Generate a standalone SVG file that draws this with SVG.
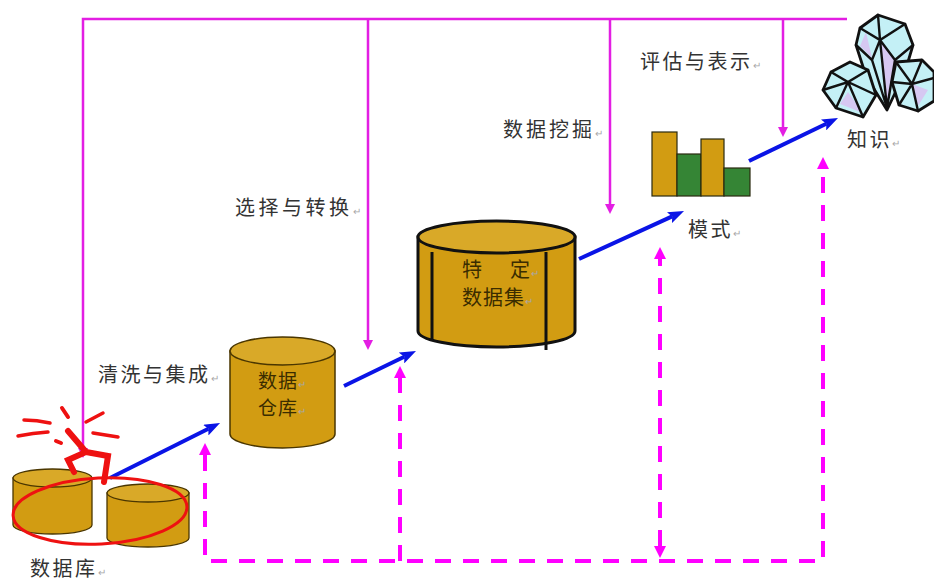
<svg xmlns="http://www.w3.org/2000/svg" width="934" height="581" viewBox="0 0 934 581">
  <style>
    .lbl { font-family: "Noto Sans CJK SC", "Noto Sans", sans-serif; font-size: 20px; fill: #333333; letter-spacing: 2.5px; }
    .inlbl { font-family: "Noto Sans CJK SC", "Noto Sans", sans-serif; font-size: 19px; fill: #3a2c00; letter-spacing: 1px; }
    .ret { font-size: 10px; fill: #a8a8a8; letter-spacing: 0; }
    .solid { fill: none; stroke: #e31ee3; stroke-width: 2.5; }
    .dash { fill: none; stroke: #ff00ff; stroke-width: 4; stroke-dasharray: 16 12; }
    .flow { fill: none; stroke: #0a14e6; stroke-width: 4; }
    .gold { fill: #d29c12; }
    .goldTop { fill: #d9a928; }
    .gem { fill: #c4f0f6; stroke: #111; stroke-width: 2.8; stroke-linejoin: round; }
    .facet { fill: none; stroke: #111; stroke-width: 2.4; stroke-linecap: round; }
    .lav { fill: #d6c8f2; }
  </style>
  <defs>
    <marker id="headBlue" viewBox="0 0 16 12" markerWidth="16" markerHeight="12" refX="3" refY="6" orient="auto" markerUnits="userSpaceOnUse">
      <path d="M0,0 L16,6 L0,12 L3,6 z" fill="#0a14e6"/>
    </marker>
    <marker id="headPink" viewBox="0 0 10 10" markerWidth="10" markerHeight="10" refX="0" refY="5" orient="auto" markerUnits="userSpaceOnUse">
      <path d="M0,0 L10,5 L0,10 z" fill="#e31ee3"/>
    </marker>
    <marker id="headDash" viewBox="0 0 12 12" markerWidth="12" markerHeight="12" refX="0" refY="6" orient="auto-start-reverse" markerUnits="userSpaceOnUse">
      <path d="M0,0 L12,6 L0,12 z" fill="#ff00ff"/>
    </marker>
  </defs>

  <rect width="934" height="581" fill="#ffffff"/>

  <!-- connectors -->
  <g id="connectors">
    <!-- feedback frame across the top with drops into each stage -->
    <path class="solid" d="M847,19 L83,19 L83,448" marker-end="url(#headPink)"/>
    <path class="solid" d="M368,19 L368,340" marker-end="url(#headPink)"/>
    <path class="solid" d="M610,19 L610,204" marker-end="url(#headPink)"/>
    <path class="solid" d="M783,19 L783,127" marker-end="url(#headPink)"/>

    <!-- main flow -->
    <path class="flow" d="M110,478 L208.4,428.8" marker-end="url(#headBlue)"/>
    <path class="flow" d="M344,386 L404.3,356.7" marker-end="url(#headBlue)"/>
    <path class="flow" d="M579,259 L672.2,216.4" marker-end="url(#headBlue)"/>
    <path class="flow" d="M749,161 L826.3,123.7" marker-end="url(#headBlue)"/>

    <!-- dashed loop along the bottom -->
    <path class="dash" d="M205,455 L205,561 L823,561 L823,169" marker-start="url(#headDash)" marker-end="url(#headDash)"/>
    <path class="dash" d="M400,561 L400,378" marker-end="url(#headDash)"/>
    <path class="dash" d="M660,546 L660,259" marker-start="url(#headDash)" marker-end="url(#headDash)"/>
  </g>

  <!-- source databases -->
  <g id="databases">
    <path class="gold" stroke="#4a3600" stroke-width="1.3" d="M13,478 L13,525 A39.5,9 0 0 0 92,525 L92,478 Z"/>
    <ellipse class="goldTop" stroke="#4a3600" stroke-width="1.3" cx="52.5" cy="478" rx="39.5" ry="9"/>
    <path class="gold" stroke="#4a3600" stroke-width="1.3" d="M107,493 L107,538 A41,9 0 0 0 189,538 L189,493 Z"/>
    <ellipse class="goldTop" stroke="#4a3600" stroke-width="1.3" cx="148" cy="493" rx="41" ry="9"/>
    <!-- red highlight ring and burst -->
    <ellipse cx="100" cy="511" rx="87" ry="33" fill="none" stroke="#ee1111" stroke-width="3" transform="rotate(-3 100 511)"/>
    <g fill="none" stroke="#ee1111" stroke-linecap="round">
      <path d="M24,420 Q37,420 50,423" stroke-width="3.5"/>
      <path d="M18,436 Q33,433 48,432" stroke-width="3.5"/>
      <path d="M62,408 L68,417" stroke-width="4"/>
      <path d="M86,422 L103,413" stroke-width="3.5"/>
      <path d="M93,433 L118,437" stroke-width="3.5"/>
      <path d="M56,441 L61,443" stroke-width="4"/>
    </g>
    <path d="M68,431 L86,452 L68,460 L74,472 M86,452 L108,456 L104,482" fill="none" stroke="#ee1111" stroke-width="6" stroke-linejoin="miter" stroke-linecap="round"/>
    <text class="lbl" x="30" y="576">数据库<tspan class="ret">↵</tspan></text>
  </g>

  <!-- data warehouse -->
  <g id="warehouse">
    <path class="gold" stroke="#4a3600" stroke-width="1.5" d="M230,351 L230,434 A52.5,14 0 0 0 335,434 L335,351 Z"/>
    <ellipse class="goldTop" stroke="#4a3600" stroke-width="1.5" cx="282.5" cy="351" rx="52.5" ry="14"/>
    <text class="inlbl" x="258" y="388">数据<tspan class="ret">↵</tspan></text>
    <text class="inlbl" x="258" y="415">仓库<tspan class="ret">↵</tspan></text>
  </g>

  <!-- task-specific dataset -->
  <g id="dataset">
    <path class="gold" stroke="#111" stroke-width="3" d="M418,237 L418,331 A78.5,16 0 0 0 575,331 L575,237 Z"/>
    <ellipse class="goldTop" stroke="#111" stroke-width="3" cx="496.5" cy="237" rx="78.5" ry="16"/>
    <line x1="432" y1="252" x2="432" y2="340" stroke="#111" stroke-width="3"/>
    <line x1="546" y1="252" x2="546" y2="350" stroke="#111" stroke-width="3"/>
    <text class="inlbl" x="462" y="277" style="font-size:20px">特</text>
    <text class="inlbl" x="510" y="277" style="font-size:20px">定<tspan class="ret">↵</tspan></text>
    <text class="inlbl" x="462" y="305" style="font-size:20px">数据集<tspan class="ret">↵</tspan></text>
  </g>

  <!-- patterns (bar chart) -->
  <g id="patterns" stroke="#2a2a10" stroke-width="1.2">
    <rect x="652" y="132" width="25" height="64" fill="#d29c12"/>
    <rect x="677" y="154" width="24" height="42" fill="#358535"/>
    <rect x="701" y="139" width="23" height="57" fill="#d29c12"/>
    <rect x="724" y="168" width="26" height="28" fill="#358535"/>
    <text class="lbl" x="688" y="237" stroke="none">模式<tspan class="ret">↵</tspan></text>
  </g>

  <!-- knowledge (gems) -->
  <g id="knowledge">
    <polygon class="gem" points="878,15 905,24 913,45 905,72 887,110 866,76 856,45 860,28"/>
    <polygon class="lav" points="880,40 895,60 887,104"/>
    <polygon class="lav" points="866,32 872,58 860,46"/>
    <path class="facet" d="M860,28 L880,40 L905,24 M878,15 L880,40 L887,108 M856,45 L872,60 L887,108 M913,45 L895,60 L887,108 M880,40 L872,60 M880,40 L895,60"/>
    <polygon class="gem" points="850,62 868,70 876,95 863,117 836,108 823,90 831,72"/>
    <polygon class="lav" points="848,92 863,113 840,104"/>
    <path class="facet" d="M831,72 L848,82 L868,70 M823,90 L848,82 L876,95 M848,82 L863,117 M848,82 L836,108"/>
    <polygon class="gem" points="896,62 922,60 934,72 934,101 918,111 899,105 892,82"/>
    <polygon class="lav" points="912,84 928,90 918,106"/>
    <path class="facet" d="M896,62 L912,84 L922,60 M892,82 L912,84 L934,78 M912,84 L918,111 M912,84 L899,105"/>
    <text class="lbl" x="847" y="147">知识<tspan class="ret">↵</tspan></text>
  </g>

  <!-- process step labels -->
  <g id="steps">
    <text class="lbl" x="98" y="382">清洗与集成<tspan class="ret">↵</tspan></text>
    <text class="lbl" x="235" y="215" style="letter-spacing:3.5px">选择与转换<tspan class="ret">↵</tspan></text>
    <text class="lbl" x="503" y="137" style="letter-spacing:3px">数据挖掘<tspan class="ret">↵</tspan></text>
    <text class="lbl" x="640" y="69">评估与表示<tspan class="ret">↵</tspan></text>
  </g>
</svg>
